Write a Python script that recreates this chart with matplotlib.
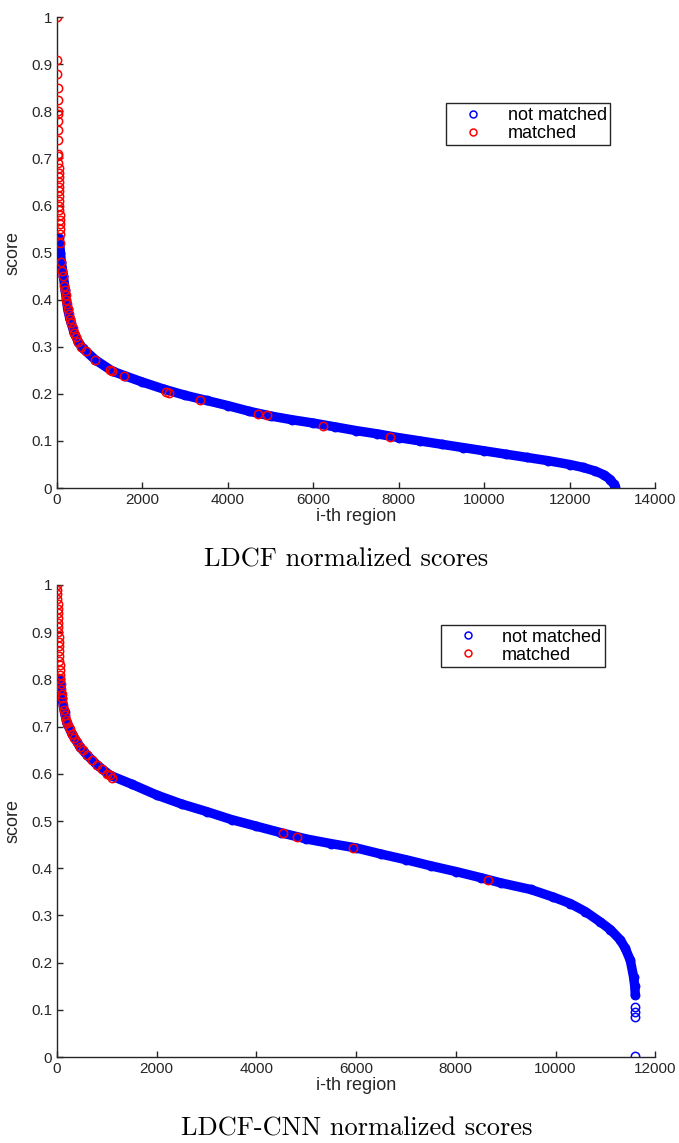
import matplotlib
matplotlib.use('Agg')
import matplotlib.pyplot as plt
from matplotlib.lines import Line2D

plt.rcParams['font.family'] = 'Liberation Sans'

# LDCF: sorted scores of all regions (not matched), sampled along the index
ldcf_idx = [50, 80, 100, 150, 190, 250, 300, 400, 500, 600, 900, 1300, 1600, 2000,
            2500, 3000, 3500, 4000, 4500, 5000, 5500, 6000, 6500, 7000, 7500, 8000,
            8500, 9000, 9500, 10000, 10500, 11000, 11500, 12000, 12300, 12600, 12800,
            12950, 13030, 13060]
ldcf_score = [0.53, 0.50, 0.48, 0.45, 0.42, 0.38, 0.36, 0.33, 0.31, 0.297, 0.272, 0.248,
              0.238, 0.225, 0.21, 0.197, 0.186, 0.175, 0.163, 0.153, 0.145, 0.138, 0.13,
              0.122, 0.115, 0.107, 0.1, 0.093, 0.086, 0.079, 0.072, 0.065, 0.058, 0.05,
              0.044, 0.036, 0.028, 0.018, 0.008, 0.003]

# LDCF: matched regions
ldcf_m_idx = [0, 5, 8, 12, 15, 18, 20, 22, 25, 28, 30, 32, 34, 36, 38, 40, 42, 44, 46, 48,
              50, 52, 55, 58, 60, 62, 65, 70, 80, 100, 120, 140, 170, 190, 205, 220, 235,
              250, 275, 300, 330, 365, 400, 450, 500, 570, 680, 890, 1250, 1290, 1570,
              2550, 2630, 3350, 4710, 4920, 6230, 7800]
ldcf_m_score = [1.0, 0.91, 0.88, 0.85, 0.825, 0.80, 0.795, 0.78, 0.76, 0.74, 0.71, 0.705,
                0.69, 0.68, 0.67, 0.66, 0.65, 0.64, 0.63, 0.62, 0.61, 0.60, 0.59, 0.58,
                0.57, 0.56, 0.55, 0.54, 0.52, 0.48, 0.46, 0.45, 0.43, 0.42, 0.41, 0.40,
                0.39, 0.38, 0.37, 0.36, 0.35, 0.34, 0.33, 0.32, 0.31, 0.30, 0.29, 0.272,
                0.25, 0.248, 0.238, 0.205, 0.202, 0.187, 0.157, 0.155, 0.132, 0.108]

# LDCF-CNN: sorted scores (not matched)
cnn_idx = [60, 100, 150, 200, 300, 460, 600, 800, 1060, 1500, 2000, 2500, 3000, 3500,
           4000, 4500, 5000, 5500, 6000, 6500, 7000, 7500, 8000, 8500, 8900, 9500,
           9950, 10300, 10600, 10900, 11100, 11300, 11400, 11500, 11565, 11590, 11600]
cnn_score = [0.80, 0.76, 0.73, 0.707, 0.685, 0.657, 0.64, 0.619, 0.597, 0.578, 0.555,
             0.536, 0.52, 0.503, 0.489, 0.475, 0.462, 0.452, 0.443, 0.43, 0.418, 0.405,
             0.393, 0.38, 0.369, 0.355, 0.339, 0.325, 0.308, 0.286, 0.27, 0.248, 0.23,
             0.205, 0.17, 0.15, 0.131]
cnn_out_idx = [11600, 11600, 11600, 11600]
cnn_out_score = [0.106, 0.096, 0.085, 0.002]

# LDCF-CNN: matched regions
cnn_m_idx = [0, 3, 6, 9, 12, 15, 18, 20, 22, 25, 28, 30, 33, 36, 40, 44, 48, 52, 56, 60,
             65, 70, 80, 90, 100, 120, 140, 160, 180, 200, 230, 260, 300, 350, 400, 461,
             520, 600, 700, 803, 900, 1000, 1063, 1104, 4535, 4816, 5940, 8649]
cnn_m_score = [1.0, 0.99, 0.98, 0.97, 0.96, 0.95, 0.94, 0.93, 0.92, 0.91, 0.90, 0.89,
               0.88, 0.87, 0.86, 0.85, 0.84, 0.83, 0.82, 0.81, 0.80, 0.79, 0.78, 0.77,
               0.76, 0.745, 0.735, 0.725, 0.715, 0.707, 0.70, 0.695, 0.685, 0.675, 0.668,
               0.657, 0.65, 0.64, 0.63, 0.619, 0.61, 0.60, 0.597, 0.591, 0.475, 0.466,
               0.443, 0.375]

y_ticks = [0, 0.1, 0.2, 0.3, 0.4, 0.5, 0.6, 0.7, 0.8, 0.9, 1]
y_tick_labels = ['0', '0.1', '0.2', '0.3', '0.4', '0.5', '0.6', '0.7', '0.8', '0.9', '1']

fig = plt.figure(figsize=(6.79, 11.43), dpi=100)
ax1 = fig.add_axes([0.084, 0.573, 0.881, 0.412])
ax2 = fig.add_axes([0.084, 0.0752, 0.881, 0.413])

ms = 6.0
band = 6.8
ink = '#262626'


def draw_panel(ax, idx, score, m_idx, m_score, xmax, xticks, extra=None):
    ax.plot(idx, score, '-', color='b', lw=band, solid_capstyle='round',
            solid_joinstyle='round', zorder=2)
    ax.plot(idx, score, 'o', mfc='none', mec='b', ms=ms, mew=1.1, zorder=2)
    if extra is not None:
        ax.plot(extra[0], extra[1], 'o', mfc='none', mec='b', ms=ms, mew=1.1, zorder=2)
    ax.plot(m_idx, m_score, 'o', mfc='none', mec='r', ms=ms, mew=1.1, zorder=3)
    ax.set_xlim(0, xmax)
    ax.set_ylim(0, 1)
    ax.set_xticks(xticks)
    ax.set_xticklabels([str(t) for t in xticks])
    ax.set_yticks(y_ticks)
    ax.set_yticklabels(y_tick_labels)
    for s in ['top', 'right']:
        ax.spines[s].set_visible(False)
    for s in ['left', 'bottom']:
        ax.spines[s].set_color(ink)
        ax.spines[s].set_linewidth(1.0)
    ax.tick_params(direction='in', length=4, width=1, colors=ink, labelsize=11,
                   labelcolor=ink)
    ax.set_xlabel('i-th region', fontsize=13, color=ink, labelpad=1)
    ax.set_ylabel('score', fontsize=13, color=ink, labelpad=7)


draw_panel(ax1, ldcf_idx, ldcf_score, ldcf_m_idx, ldcf_m_score, 14000,
           list(range(0, 14001, 2000)))
draw_panel(ax2, cnn_idx, cnn_score, cnn_m_idx, cnn_m_score, 12000,
           list(range(0, 12001, 2000)), extra=(cnn_out_idx, cnn_out_score))

handles = [Line2D([], [], ls='none', marker='o', mfc='none', mec='b', ms=5, mew=1.1),
           Line2D([], [], ls='none', marker='o', mfc='none', mec='r', ms=5, mew=1.1)]
for ax, anchor in [(ax1, (0.925, 0.817)), (ax2, (0.916, 0.915))]:
    leg = ax.legend(handles, ['not matched', 'matched'], loc='upper right',
                    bbox_to_anchor=anchor, borderaxespad=0, fancybox=False,
                    framealpha=1, edgecolor=ink, fontsize=13, handlelength=2.6,
                    handletextpad=0.6, borderpad=0.2, labelspacing=0.05)
    leg.get_frame().set_linewidth(1.0)

fig.text(0.51, 0.51, 'LDCF normalized scores', family='cmr10', fontsize=19,
         ha='center', va='center')
fig.text(0.525, 0.013, 'LDCF-CNN normalized scores', family='cmr10', fontsize=19,
         ha='center', va='center')

fig.savefig('out.png', dpi=100)
